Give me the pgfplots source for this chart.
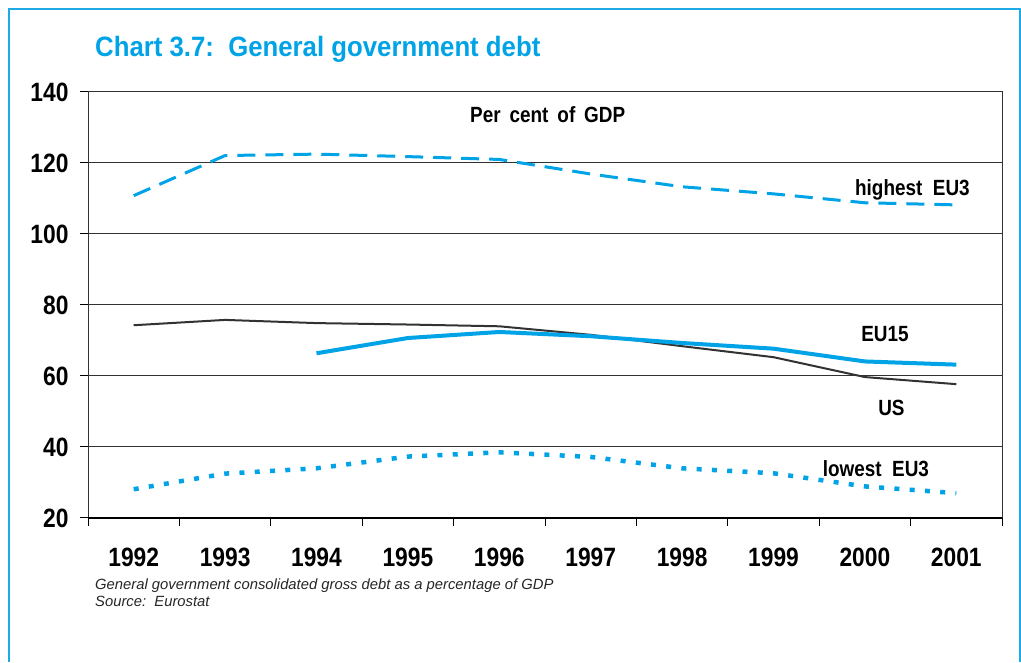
\documentclass[border=0pt]{standalone}
\usepackage{pgfplots}
\pgfplotsset{compat=1.18}
\usepackage{fontspec}
\setmainfont{Liberation Sans}
\newfontfamily\cond{Liberation Sans}[FakeStretch=0.86]
\newfontfamily\condt{Liberation Sans}[FakeStretch=0.92]

\definecolor{ecblue}{RGB}{0,163,230}
\definecolor{frameblue}{RGB}{30,170,230}
\definecolor{usgray}{RGB}{50,50,50}

% years are placed at 0..9
\pgfplotstableread{
x   high   us    low
0   110.8  74.3  28.1
1   122.1  75.8  32.5
2   122.5  74.9  34.0
3   121.8  74.5  37.3
4   121.0  74.0  38.5
5   116.9  71.6  37.2
6   113.3  68.4  34.0
7   111.3  65.3  32.6
8   108.8  59.7  28.9
9   108.2  57.7  27.0
}\debt

\pgfplotstableread{
x   eu
2   66.4
3   70.7
4   72.4
5   71.2
6   69.3
7   67.7
8   64.1
9   63.2
}\eufifteen

\begin{document}
\begin{tikzpicture}
\path[use as bounding box] (0,0) rectangle (1021pt,662pt);
\draw[frameblue, line width=2pt] (9pt,0) -- (9pt,653pt) -- (1020pt,653pt) -- (1020pt,0);

\node[anchor=base west, text=ecblue, font=\condt\bfseries\fontsize{28}{28}\selectfont, inner sep=0]
  at (95pt,605pt) {Chart 3.7:\ \ General government debt};

\begin{axis}[
    at={(88pt,144pt)}, anchor=south west,
    width=914pt, height=426pt, scale only axis,
    xmin=-0.5, xmax=9.5, ymin=20, ymax=140,
    ytick={20,40,...,140},
    xtick={0,...,9},
    xticklabels={1992,1993,1994,1995,1996,1997,1998,1999,2000,2001},
    minor xtick={-0.5,0.5,...,9.5},
    xtick pos=bottom, ytick pos=left,
    tick align=outside,
    major tick length=8pt, minor tick length=8pt,
    major x tick style={draw=none},
    tick style={black, line width=1pt},
    ymajorgrids, grid style={draw=usgray, line width=1pt},
    axis line style={usgray, line width=1pt},
    /pgf/number format/assume math mode=true,
    ticklabel style={font=\cond\bfseries\fontsize{26.5}{26.5}\selectfont},
    yticklabel style={xshift=-8pt},
    xticklabel style={yshift=-18pt},
    clip=false,
  ]
  \draw[black, line width=2.5pt] (rel axis cs:0,0) -- (rel axis cs:1,0);
  \addplot[ecblue, line width=3pt, dash pattern=on 18pt off 10pt] table[x=x, y=high] {\debt};
  \addplot[usgray, line width=2pt] table[x=x, y=us] {\debt};
  \addplot[ecblue, line width=4pt] table[x=x, y=eu] {\eufifteen};
  \addplot[ecblue, line width=4.5pt, dash pattern=on 5pt off 10.3pt] table[x=x, y=low] {\debt};

  \begin{scope}[every node/.style={font=\cond\bfseries\fontsize{22}{22}\selectfont, inner sep=0}]
    \node at (axis cs:4.53,133.6) {Per\ \,cent\ \,of\ \,GDP};
    \node at (axis cs:8.52,112.5) {highest\ \ EU3};
    \node at (axis cs:8.22,71.9) {EU15};
    \node at (axis cs:8.29,50.9) {US};
    \node at (axis cs:8.12,34.0) {lowest\ \ EU3};
  \end{scope}
\end{axis}

\begin{scope}[every node/.style={anchor=base west, inner sep=0, font=\itshape\fontsize{14.8}{14.8}\selectfont, text=black!85}]
  \node at (95pt,72pt) {General government consolidated gross debt as a percentage of GDP};
  \node at (95pt,56pt) {Source:\ \ Eurostat};
\end{scope}
\end{tikzpicture}
\end{document}
